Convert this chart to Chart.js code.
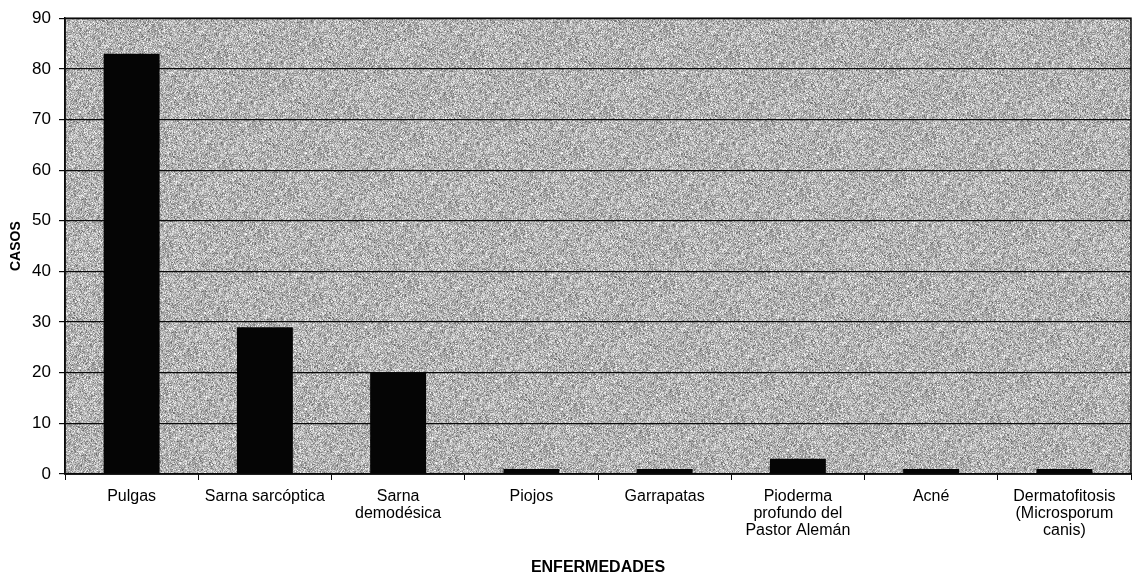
<!DOCTYPE html>
<html>
<head>
<meta charset="utf-8">
<script src="https://cdn.jsdelivr.net/npm/chart.js@4"></script>
<style>
  html, body { margin: 0; padding: 0; background: #fff; }
  #wrap { width: 1137px; height: 580px; }
</style>
</head>
<body>
<div id="wrap"><canvas id="c" width="1137" height="580"></canvas></div>
<script>
const categories = [
  'Pulgas',
  'Sarna sarcóptica',
  ['Sarna', 'demodésica'],
  'Piojos',
  'Garrapatas',
  ['Pioderma', 'profundo del', 'Pastor Alemán'],
  'Acné',
  ['Dermatofitosis', '(Microsporum', 'canis)']
];
const casos = [83, 29, 20, 1, 1, 3, 1, 1];
const yTicks = [0, 10, 20, 30, 40, 50, 60, 70, 80, 90];
const xTitle = 'ENFERMEDADES';
const yTitle = 'CASOS';

// deterministic grainy texture for the plot background
function makePattern(ctx) {
  const s = 256;
  const off = document.createElement('canvas');
  off.width = s; off.height = s;
  const o = off.getContext('2d');
  const img = o.createImageData(s, s);
  let seed = 12345;
  function rnd() { seed = (seed * 1103515245 + 12345) & 0x7fffffff; return seed / 0x7fffffff; }
  for (let i = 0; i < s * s; i++) {
    const v = Math.max(0, Math.min(255, Math.round(180 + (rnd() + rnd() + rnd() - 1.5) * 64)));
    img.data[i * 4] = v; img.data[i * 4 + 1] = v; img.data[i * 4 + 2] = v; img.data[i * 4 + 3] = 255;
  }
  o.putImageData(img, 0, 0);
  return ctx.createPattern(off, 'repeat');
}

const bgPlugin = {
  id: 'bg',
  beforeDraw(chart) {
    const { ctx, chartArea: a } = chart;
    if (!chart._pat) chart._pat = makePattern(ctx);
    ctx.save();
    ctx.fillStyle = chart._pat;
    ctx.fillRect(a.left, a.top, a.right - a.left, a.bottom - a.top);
    ctx.restore();
  },
  afterDraw(chart) {
    const { ctx, chartArea: a } = chart;
    ctx.save();
    ctx.strokeStyle = '#0a0a0a';
    ctx.lineWidth = 1.5;
    ctx.strokeRect(a.left, a.top, a.right - a.left, a.bottom - a.top);
    ctx.restore();
  }
};

const FONT = 'Liberation Sans, Arial, sans-serif';

new Chart(document.getElementById('c'), {
  type: 'bar',
  data: {
    labels: categories,
    datasets: [{
      data: casos,
      backgroundColor: '#050505',
      borderWidth: 0,
      categoryPercentage: 1,
      barPercentage: 0.42
    }]
  },
  options: {
    responsive: false,
    animation: false,
    devicePixelRatio: 1,
    layout: { padding: { top: 14, right: 6, left: 0, bottom: 0 } },
    plugins: { legend: { display: false }, tooltip: { enabled: false } },
    scales: {
      x: {
        afterFit(scale) { scale.height = 106; },
        grid: { display: true, drawOnChartArea: false, drawTicks: true, tickLength: 6, color: '#0a0a0a', offset: true },
        border: { display: true, color: '#0a0a0a', width: 1.5 },
        ticks: {
          color: '#000', padding: 8, maxRotation: 0, autoSkip: false,
          font: { family: FONT, size: 16, lineHeight: '17px' }
        },
        title: {
          display: true, text: xTitle, color: '#000',
          padding: { top: 0, bottom: 3 },
          font: { family: FONT, size: 16, weight: 'bold' }
        }
      },
      y: {
        min: 0, max: 90,
        afterFit(scale) { scale.width = 65; },
        afterBuildTicks(scale) { scale.ticks = yTicks.map(v => ({ value: v })); },
        grid: { color: '#0a0a0a', lineWidth: 1.2, tickLength: 6, drawTicks: true },
        border: { display: true, color: '#0a0a0a', width: 1.5 },
        ticks: {
          color: '#000', padding: 8,
          font: { family: FONT, size: 17 }
        },
        title: {
          display: true, text: yTitle, color: '#000',
          padding: { top: 8, bottom: 0 },
          font: { family: FONT, size: 14, weight: 'bold' }
        }
      }
    }
  },
  plugins: [bgPlugin]
});
</script>
</body>
</html>
